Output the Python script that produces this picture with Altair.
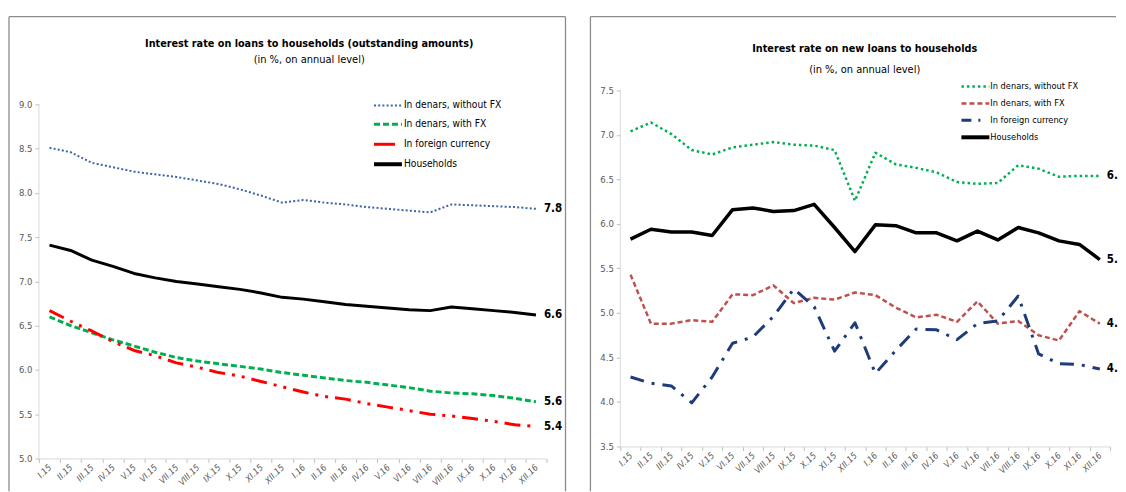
import altair as alt
import pandas as pd

months = ["I.15", "II.15", "III.15", "IV.15", "V.15", "VI.15", "VII.15", "VIII.15",
          "IX.15", "X.15", "XI.15", "XII.15", "I.16", "II.16", "III.16", "IV.16",
          "V.16", "VI.16", "VII.16", "VIII.16", "IX.16", "X.16", "XI.16", "XII.16"]

series_names = ["In denars, without FX", "In denars, with FX", "In foreign currency", "Households"]

# Left panel: outstanding amounts
out_without_fx = [8.51, 8.46, 8.34, 8.29, 8.24, 8.21, 8.18, 8.14, 8.10, 8.04, 7.97, 7.89,
                  7.92, 7.89, 7.87, 7.84, 7.82, 7.80, 7.78, 7.87, 7.86, 7.85, 7.84, 7.82]
out_with_fx = [6.60, 6.50, 6.42, 6.34, 6.27, 6.20, 6.14, 6.10, 6.07, 6.04, 6.01, 5.97,
               5.94, 5.91, 5.88, 5.86, 5.83, 5.80, 5.76, 5.74, 5.73, 5.71, 5.68, 5.64]
out_foreign = [6.67, 6.55, 6.44, 6.32, 6.22, 6.16, 6.08, 6.03, 5.97, 5.93, 5.87, 5.81,
               5.75, 5.70, 5.67, 5.62, 5.58, 5.54, 5.50, 5.48, 5.45, 5.42, 5.38, 5.36]
out_households = [7.41, 7.35, 7.24, 7.17, 7.09, 7.04, 7.00, 6.97, 6.94, 6.91, 6.87, 6.82,
                  6.80, 6.77, 6.74, 6.72, 6.70, 6.68, 6.67, 6.71, 6.69, 6.67, 6.65, 6.62]

# Right panel: new loans
new_without_fx = [7.04, 7.14, 7.01, 6.83, 6.78, 6.86, 6.89, 6.92, 6.89, 6.88, 6.83, 6.26,
                  6.80, 6.67, 6.63, 6.58, 6.47, 6.45, 6.46, 6.66, 6.62, 6.53, 6.54, 6.54]
new_with_fx = [5.43, 4.88, 4.88, 4.92, 4.90, 5.21, 5.20, 5.31, 5.11, 5.17, 5.15, 5.23,
               5.20, 5.06, 4.95, 4.98, 4.90, 5.13, 4.88, 4.91, 4.75, 4.69, 5.02, 4.88]
new_foreign = [4.28, 4.21, 4.18, 3.99, 4.28, 4.66, 4.73, 4.96, 5.27, 5.07, 4.57, 4.89,
               4.32, 4.58, 4.82, 4.81, 4.70, 4.88, 4.91, 5.19, 4.54, 4.43, 4.42, 4.37]
new_households = [5.83, 5.94, 5.91, 5.91, 5.87, 6.16, 6.18, 6.14, 6.15, 6.22, 5.96, 5.69,
                  5.99, 5.98, 5.90, 5.90, 5.81, 5.92, 5.82, 5.96, 5.90, 5.81, 5.77, 5.60]

left_ticks = [5.0, 5.5, 6.0, 6.5, 7.0, 7.5, 8.0, 8.5, 9.0]
right_ticks = [3.5, 4.0, 4.5, 5.0, 5.5, 6.0, 6.5, 7.0, 7.5]

FONT = "Liberation Sans Narrow, DejaVu Sans Condensed, Arial Narrow, sans-serif"
GRAY = "#595959"
FRAME = "#8c8c8c"
dummy = pd.DataFrame({"k": [0]})


def hrule(x1, x2, y, color, width, dash=None):
    kw = dict(color=color, strokeWidth=width)
    if dash:
        kw["strokeDash"] = dash
    return alt.Chart(dummy).mark_rule(**kw).encode(
        x=alt.value(x1), x2=alt.value(x2), y=alt.value(y))


def vrule(x, y1, y2, color, width):
    return alt.Chart(dummy).mark_rule(color=color, strokeWidth=width).encode(
        x=alt.value(x), y=alt.value(y1), y2=alt.value(y2))


def label(text, x, y, size, weight="normal", align="left", color="black"):
    return alt.Chart(dummy).mark_text(
        text=text, font=FONT, fontSize=size, fontWeight=weight, align=align,
        baseline="middle", color=color).encode(x=alt.value(x), y=alt.value(y))


def panel(values, styles, ydom, yticks, width, height, xoffset, title, subtitle,
          title_x, title_y, sub_y, frame, legend, end_limit=None):
    xenc = alt.X("month:O", sort=months, bandPosition=0.5,
                 scale=alt.Scale(type="band", paddingInner=0, paddingOuter=0),
                 axis=alt.Axis(title=None, labelAngle=-45, labelAlign="right",
                               labelBaseline="middle", labelFontStyle="italic",
                               labelFont=FONT, labelFontSize=9, labelColor=GRAY,
                               labelPadding=3, tickBand="extent", tickSize=4,
                               tickColor="#bfbfbf", domainColor="#d9d9d9",
                               labelOverlap=False, offset=xoffset))
    yenc = alt.Y("value:Q", scale=alt.Scale(domain=ydom, nice=False, zero=False),
                 axis=alt.Axis(title=None, values=yticks, format=".1f", grid=False,
                               domain=False, tickSize=4, tickColor="#bfbfbf",
                               labelFont=FONT, labelFontSize=9.5, labelColor=GRAY,
                               labelPadding=3))
    layers = []
    # frame (left, top, right)
    fx1, fx2, fy1, fy2, right_side = frame
    layers.append(vrule(fx1, fy1, fy2, FRAME, 1.3))
    layers.append(hrule(fx1, fx2, fy1, FRAME, 1.3))
    if right_side:
        layers.append(vrule(fx2, fy1, fy2, FRAME, 1.3))
    # y axis line from first to last tick
    ydf = pd.DataFrame({"value": [yticks[0]], "value2": [yticks[-1]]})
    layers.append(alt.Chart(ydf).mark_rule(color="#d9d9d9", strokeWidth=1).encode(
        x=alt.value(0), y=yenc, y2="value2:Q"))
    # lines
    for name, vals in zip(series_names, values):
        st = styles[name]
        df = pd.DataFrame({"month": months, "value": vals})
        kw = dict(color=st["color"], strokeWidth=st["width"], strokeCap="butt",
                  strokeJoin="round")
        if st.get("dash"):
            kw["strokeDash"] = st["dash"]
        layers.append(alt.Chart(df).mark_line(**kw).encode(x=xenc, y=yenc))
    # end labels
    for name, vals in zip(series_names, values):
        df = pd.DataFrame({"month": [months[-1]], "value": [vals[-1]]})
        kw = dict(font=FONT, fontSize=11.5, fontWeight="bold", align="left",
                  baseline="middle", dx=8, color="black")
        if end_limit:
            kw["limit"] = end_limit
            kw["ellipsis"] = "\u200b"
            kw["dx"] = 7
        layers.append(alt.Chart(df).mark_text(**kw).encode(
            x=xenc, y=yenc, text=alt.Text("value:Q", format=".1f")))
    # titles
    layers.append(label(title, title_x, title_y, 10.8, "bold", "center"))
    layers.append(label(subtitle, title_x, sub_y, 11, "normal", "center"))
    # legend
    lx1, lx2, ltx, lys, lsize = legend
    for name, ly in zip(series_names, lys):
        st = styles[name]
        layers.append(hrule(lx1, st.get("legend_x2", lx2), ly, st["color"],
                            st["legend_width"], st.get("legend_dash")))
        layers.append(label(name, ltx, ly, lsize, color="black"))
    return alt.layer(*layers).properties(width=width, height=height)


left_styles = {
    "In denars, without FX": dict(color="#3a64a8", width=2, dash=[2, 2.2],
                                  legend_width=2, legend_dash=[2, 2.2]),
    "In denars, with FX": dict(color="#00b050", width=3, dash=[6, 3],
                               legend_width=3, legend_dash=[6, 3]),
    "In foreign currency": dict(color="#ff0000", width=3, dash=[16, 7, 3, 7, 3, 7],
                                legend_width=3, legend_x2=357),
    "Households": dict(color="#000000", width=3, legend_width=4),
}
right_styles = {
    "In denars, without FX": dict(color="#00b050", width=2.5, dash=[2.5, 3],
                                  legend_width=2.5, legend_dash=[2.5, 3]),
    "In denars, with FX": dict(color="#c0504d", width=2.5, dash=[5, 3],
                               legend_width=2.5, legend_dash=[5, 3]),
    "In foreign currency": dict(color="#1f3c7a", width=3, dash=[14, 8, 3, 8],
                                legend_width=3, legend_dash=[10, 7, 2, 20]),
    "Households": dict(color="#000000", width=3.5, legend_width=4),
}

# common plot band: top = 7.5 of right panel, bottom = 5.0 of left panel
left = panel(
    [out_without_fx, out_with_fx, out_foreign, out_households], left_styles,
    [5, 9 + 14 / 88.75], left_ticks, 509, 369, 0,
    "Interest rate on loans to households (outstanding amounts)",
    "(in %, on annual level)", 271, -47, -31,
    (-30, 528, -74, 402, True), (336, 364, 366, [15, 34, 54, 74], 10.2))

right = panel(
    [new_without_fx, new_with_fx, new_foreign, new_households], right_styles,
    [3.5 - 12 / 89.25, 7.5], right_ticks, 491, 369, -12,
    "Interest rate on new loans to households",
    "(in %, on annual level)", 245, -42, -20,
    (-30, 497, -74, 402, False), (342, 370, 371, [-4, 13, 30, 47], 9.2),
    end_limit=12)

chart = alt.hconcat(left, right, spacing=23).properties(
    padding={"left": 0, "top": 7, "right": 0, "bottom": 0},
    background="white",
).configure_view(stroke=None)

chart.save("out.html", embed_options={"renderer": "svg", "actions": False})
